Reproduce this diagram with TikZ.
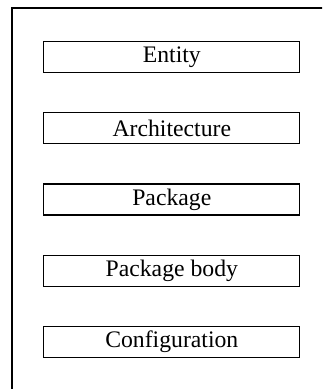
\documentclass[tikz,border=0pt]{standalone}
\usepackage{fontspec}
\setmainfont{Liberation Serif}
\usetikzlibrary{positioning}

\begin{document}
\begin{tikzpicture}[
      x=1pt, y=-1pt,
      font=\fontsize{23.7}{28}\selectfont,
      unit/.style={draw, line width=1.3pt, inner sep=0pt,
                   minimum height=31pt, minimum width=256pt},
      frame/.style={draw, line width=1.3pt},
      node distance=39pt
    ]
    \useasboundingbox (0,0) rectangle (322,389);
    \clip (0,0) rectangle (322,389);

    % Rahmen (rechts und unten abgeschnitten)
    \draw[frame] (12,400) -- (12,8) -- (330,8);

    % Entwurfseinheiten
    \node[unit] (entity) at (171.8,57) {Entity};
    \node[unit, below=of entity] (arch) {Architecture};
    \node[unit, below=of arch] (pkg) {Package};
    \node[unit, below=of pkg] (pkgbody) {Package body};
    \node[unit, below=of pkgbody] (config) {Configuration};
  \end{tikzpicture}
\end{document}
